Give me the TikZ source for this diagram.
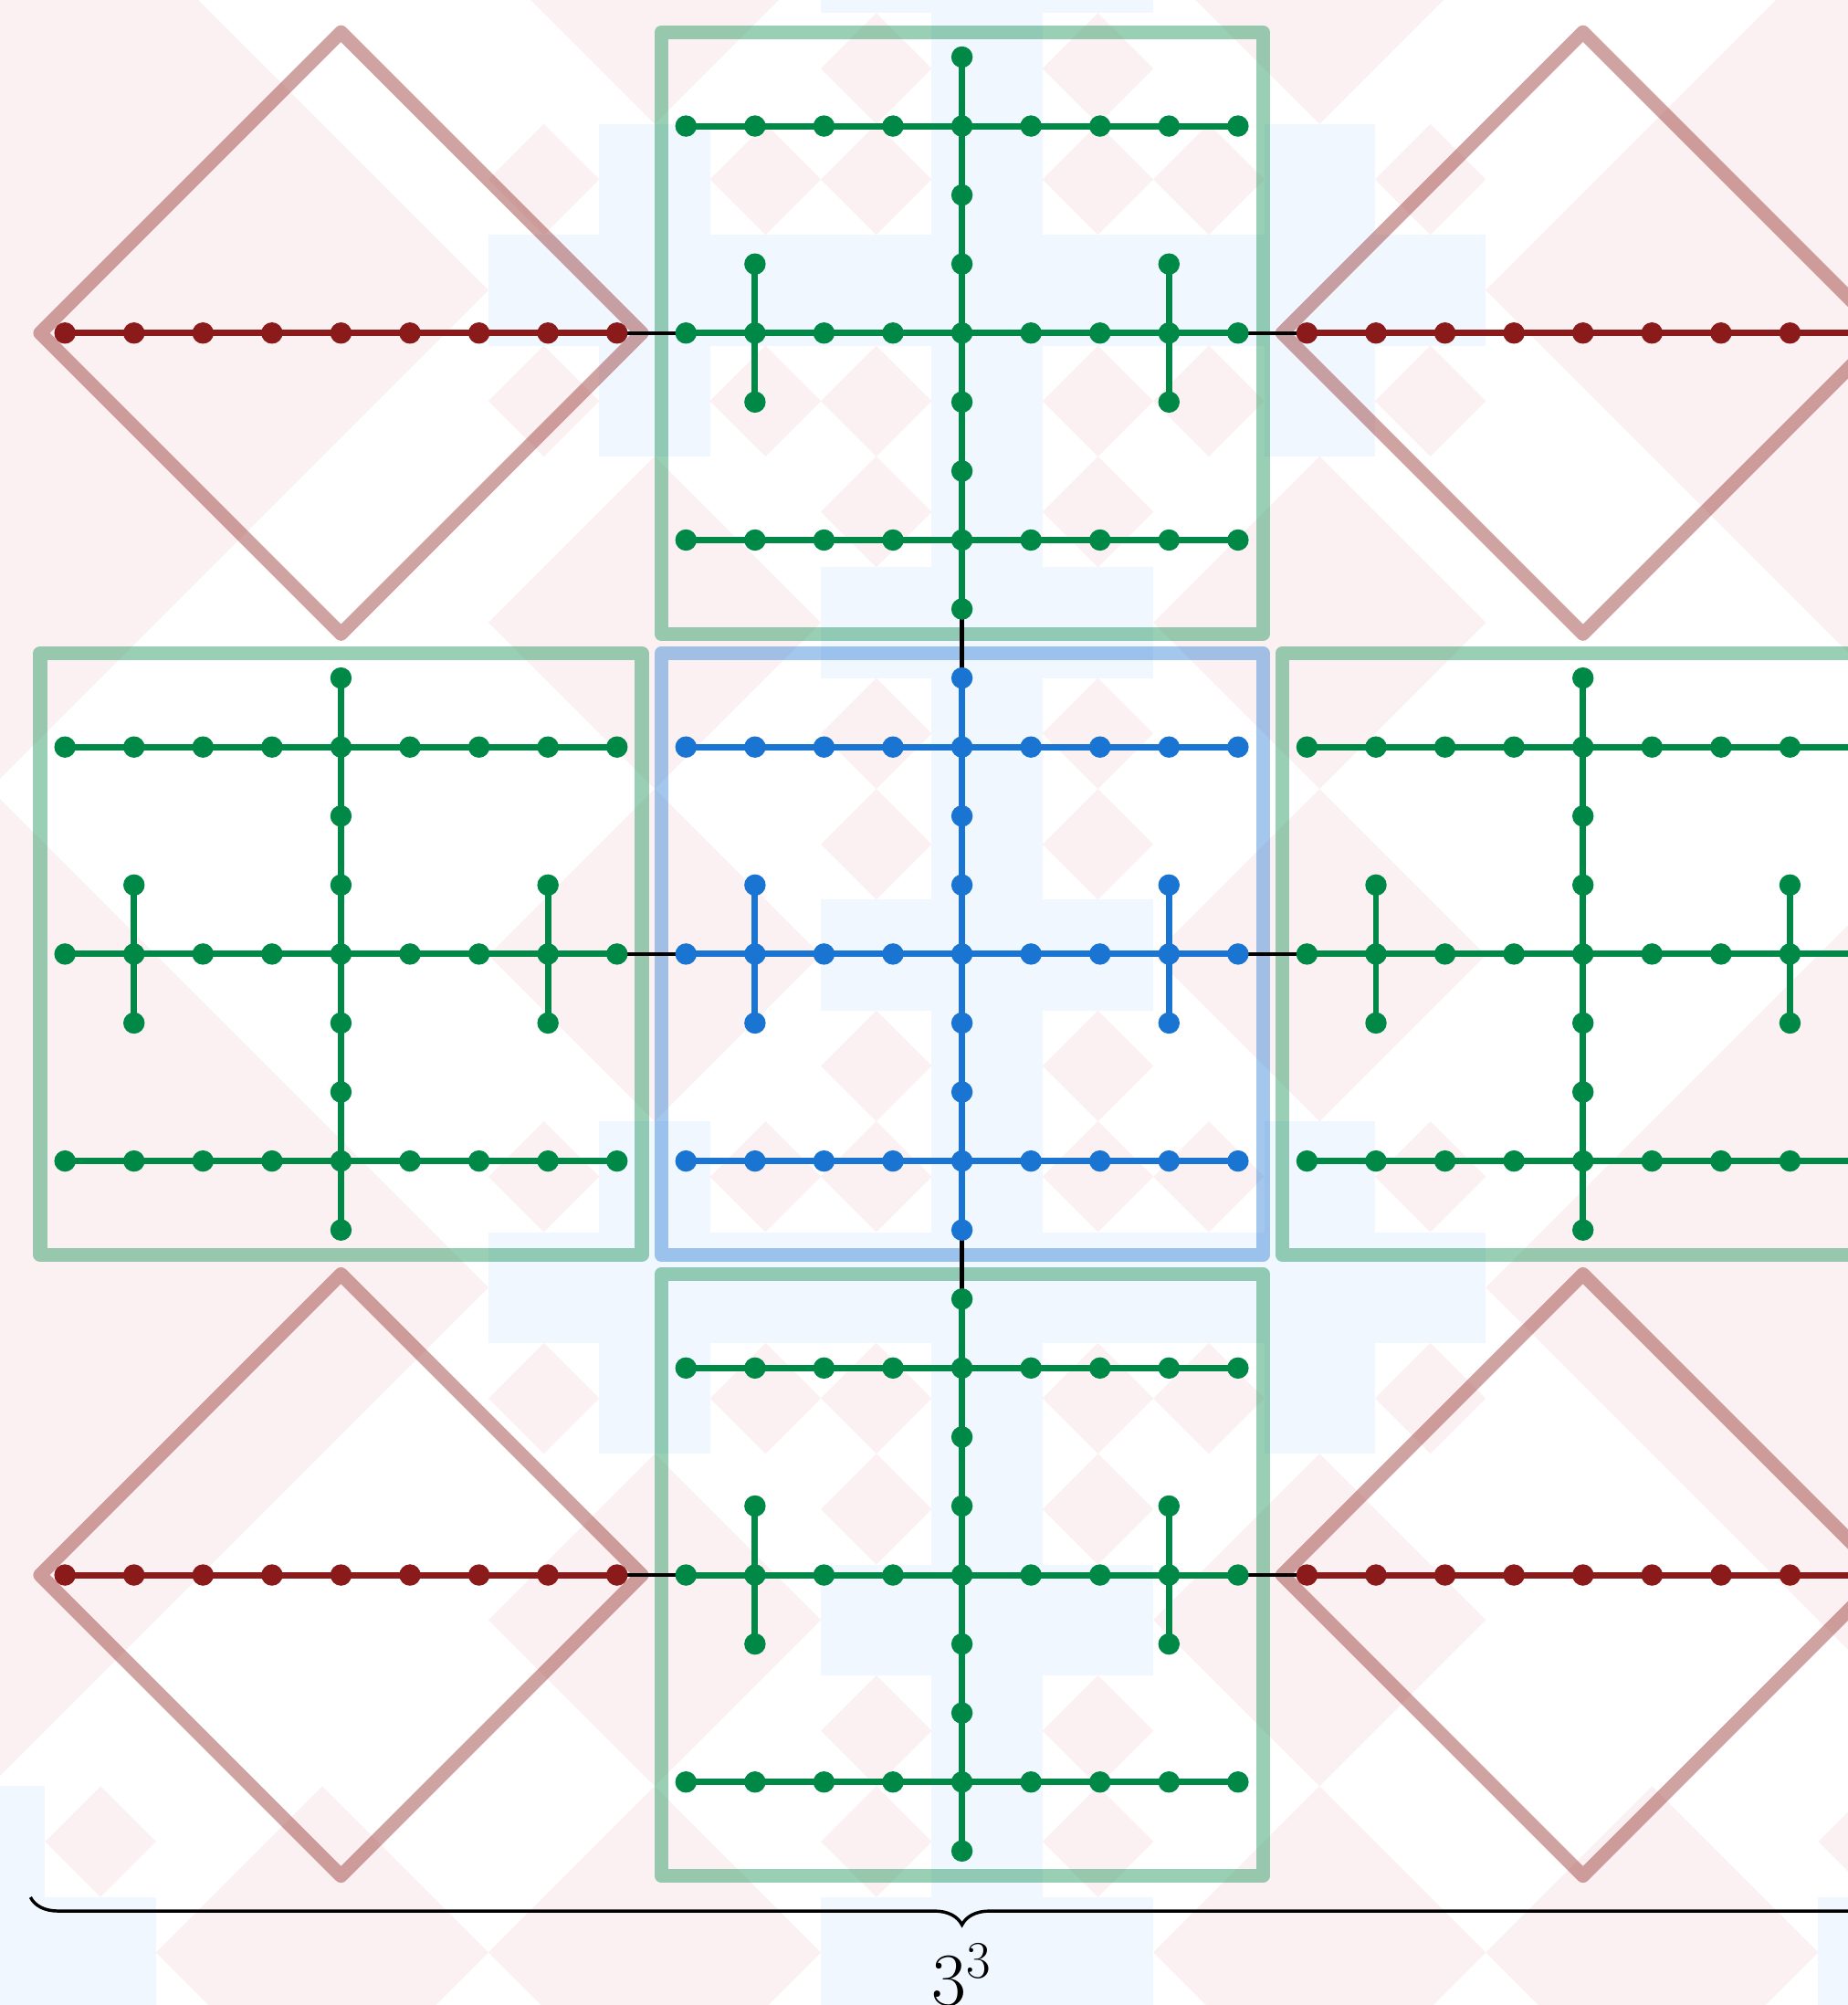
\documentclass[tikz,border=0pt]{standalone}
\usepackage{fix-cm}
\usetikzlibrary{decorations.pathreplacing}
\definecolor{gnode}{RGB}{0,136,71}
\definecolor{bnode}{RGB}{25,116,210}
\definecolor{rnode}{RGB}{139,26,26}
\definecolor{bgpink}{RGB}{252,241,242}
\definecolor{bgblue}{RGB}{240,247,254}
\pgfdeclarelayer{pattern}
\pgfdeclarelayer{frames}
\pgfdeclarelayer{edges}
\pgfsetlayers{pattern,frames,edges,main}

% background: Vicsek-type cross pattern with diamonds in the free corners
\newcommand\bgDia[3]{\fill[bgpink] ({#1+0.5},{#2+0.5-#3}) -- ({#1+0.5+#3},{#2+0.5}) -- ({#1+0.5},{#2+0.5+#3}) -- ({#1+0.5-#3},{#2+0.5}) -- cycle;}
\newcommand\bgLvA[2]{%
  \fill[bgblue] ({#1-1},{#2}) rectangle ({#1+2},{#2+1});
  \fill[bgblue] ({#1},{#2-1}) rectangle ({#1+1},{#2+2});
  \bgDia{#1-1}{#2-1}{0.5}\bgDia{#1+1}{#2-1}{0.5}%
  \bgDia{#1-1}{#2+1}{0.5}\bgDia{#1+1}{#2+1}{0.5}}
\newcommand\bgLvB[2]{%
  \bgLvA{#1}{#2}\bgLvA{#1-3}{#2}\bgLvA{#1+3}{#2}\bgLvA{#1}{#2-3}\bgLvA{#1}{#2+3}%
  \bgDia{#1-3}{#2-3}{1.5}\bgDia{#1+3}{#2-3}{1.5}\bgDia{#1-3}{#2+3}{1.5}\bgDia{#1+3}{#2+3}{1.5}}
\newcommand\bgLvC[2]{%
  \bgLvB{#1}{#2}\bgLvB{#1-9}{#2}\bgLvB{#1+9}{#2}\bgLvB{#1}{#2-9}\bgLvB{#1}{#2+9}%
  \bgDia{#1-9}{#2-9}{4.5}\bgDia{#1+9}{#2-9}{4.5}\bgDia{#1-9}{#2+9}{4.5}\bgDia{#1+9}{#2+9}{4.5}}

\begin{document}
\begin{tikzpicture}[
  gdot/.style={circle, fill=#1, draw=none, inner sep=0pt, minimum size=0.31cm},
  edgeln/.style={draw=#1, line width=2.6pt},
  bridge/.style={draw=black, line width=1.7pt},
  blockframe/.style={draw=#1, draw opacity=0.4, line width=0.2cm, line join=round},
]
\useasboundingbox (-13.942,-15.232) rectangle (12.841,13.827);
\clip (-13.942,-15.232) rectangle (12.841,13.827);

\begin{pgfonlayer}{pattern}
  \fill[white] (-13.942,-15.232) rectangle (12.841,13.827);
  \begin{scope}[shift={(-13.287,13.636)}, x=1.6061cm, y=-1.6061cm]
    \bgLvC{8}{-7}
    \bgLvC{8}{20}
  \end{scope}
\end{pgfonlayer}

\begin{pgfonlayer}{frames}
  \foreach \bx/\by/\col in {0/9/gnode, -9/0/gnode, 0/0/bnode, 9/0/gnode, 0/-9/gnode}
    \draw[blockframe=\col] ({\bx-4.36},{\by-4.36}) rectangle ({\bx+4.36},{\by+4.36});
  \foreach \bx/\by in {-9/9, 9/9, -9/-9, 9/-9}
    \draw[blockframe=rnode] ({\bx-4.36},{\by}) -- ({\bx},{\by+4.36}) -- ({\bx+4.36},{\by}) -- ({\bx},{\by-4.36}) -- cycle;
\end{pgfonlayer}

% full blocks
\foreach \nm/\bx/\by/\col in {T/0/9/gnode, L/-9/0/gnode, C/0/0/bnode, R/9/0/gnode, B/0/-9/gnode} {
  \foreach \j in {1,4,7} {
    \foreach \i in {0,...,8}
      \node[gdot=\col] (\nm-\i-\j) at ({\bx+\i-4},{\by+\j-4}) {};
    \begin{pgfonlayer}{edges}
      \foreach \i [count=\k from 1] in {0,...,7}
        \draw[edgeln=\col] (\nm-\i-\j.center) -- (\nm-\k-\j.center);
    \end{pgfonlayer}
  }
  \foreach \j in {0,2,3,5,6,8}
    \node[gdot=\col] (\nm-4-\j) at ({\bx},{\by+\j-4}) {};
  \begin{pgfonlayer}{edges}
    \foreach \j [count=\k from 1] in {0,...,7}
      \draw[edgeln=\col] (\nm-4-\j.center) -- (\nm-4-\k.center);
  \end{pgfonlayer}
  \foreach \i in {1,7} {
    \node[gdot=\col] (\nm-\i-3) at ({\bx+\i-4},{\by-1}) {};
    \node[gdot=\col] (\nm-\i-5) at ({\bx+\i-4},{\by+1}) {};
    \begin{pgfonlayer}{edges}
      \draw[edgeln=\col] (\nm-\i-3.center) -- (\nm-\i-4.center);
      \draw[edgeln=\col] (\nm-\i-4.center) -- (\nm-\i-5.center);
    \end{pgfonlayer}
  }
}

% corner blocks (single row)
\foreach \nm/\bx/\by in {TL/-9/9, TR/9/9, BL/-9/-9, BR/9/-9} {
  \foreach \i in {0,...,8}
    \node[gdot=rnode] (\nm-\i-4) at ({\bx+\i-4},{\by}) {};
  \begin{pgfonlayer}{edges}
    \foreach \i [count=\k from 1] in {0,...,7}
      \draw[edgeln=rnode] (\nm-\i-4.center) -- (\nm-\k-4.center);
  \end{pgfonlayer}
}

% connections between blocks
\begin{pgfonlayer}{edges}
  \draw[bridge] (TL-8-4.center) -- (T-0-4.center);
  \draw[bridge] (T-8-4.center) -- (TR-0-4.center);
  \draw[bridge] (T-4-0.center) -- (C-4-8.center);
  \draw[bridge] (L-8-4.center) -- (C-0-4.center);
  \draw[bridge] (C-8-4.center) -- (R-0-4.center);
  \draw[bridge] (C-4-0.center) -- (B-4-8.center);
  \draw[bridge] (BL-8-4.center) -- (B-0-4.center);
  \draw[bridge] (B-8-4.center) -- (BR-0-4.center);
\end{pgfonlayer}

% brace and label
\coordinate (braceL) at (-13.5,-13.67);
\coordinate (braceR) at (13.5,-13.67);
\draw[decorate, decoration={brace, mirror, amplitude=0.4cm}, line width=1.3pt] (braceL) -- (braceR);
\node[anchor=base, inner sep=0pt, font=\fontsize{31}{36}\selectfont] (cubelbl) at (0,-15.24) {$3^3$};
\end{tikzpicture}
\end{document}
